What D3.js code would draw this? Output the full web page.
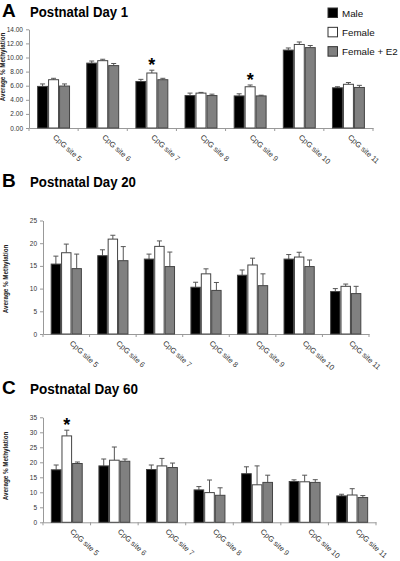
<!DOCTYPE html>
<html><head><meta charset="utf-8">
<script src="https://cdn.jsdelivr.net/npm/d3@7"></script>
<style>
html,body{margin:0;padding:0;background:#fff;}
svg{display:block;font-family:"Liberation Sans",Arial,sans-serif;}
</style></head>
<body>
<svg id="chart" width="400" height="561"></svg>
<script>
const categories = ["CpG site 5","CpG site 6","CpG site 7","CpG site 8","CpG site 9","CpG site 10","CpG site 11"];
const seriesNames = ["Male","Female","Female + E2"];
const seriesColors = ["#000000","#ffffff","#808080"];

// Postnatal Day 1
const day1Male      = [5.9, 9.2, 6.6, 4.6, 4.55, 11.05, 5.7];
const day1Female    = [6.85, 9.55, 7.8, 4.95, 5.85, 11.85, 6.2];
const day1FemaleE2  = [5.95, 8.85, 6.85, 4.6, 4.55, 11.4, 5.75];
const day1MaleErr   = [0.35, 0.3, 0.3, 0.35, 0.3, 0.3, 0.15];
const day1FemaleErr = [0.2, 0.2, 0.4, 0.1, 0.25, 0.35, 0.25];
const day1E2Err     = [0.3, 0.3, 0.2, 0.2, 0.1, 0.3, 0.3];
const day1Stars     = ["CpG site 7","CpG site 9"];
const day1Ticks     = [0, 2, 4, 6, 8, 10, 12, 14];

// Postnatal Day 20
const day20Male      = [15.4, 17.25, 16.5, 10.3, 12.95, 16.5, 9.35];
const day20Female    = [17.9, 20.9, 19.3, 13.25, 15.2, 16.95, 10.5];
const day20FemaleE2  = [14.4, 16.15, 14.85, 9.6, 10.65, 14.85, 8.9];
const day20MaleErr   = [1.75, 1.3, 1.1, 1.1, 1.15, 1.0, 0.65];
const day20FemaleErr = [1.9, 0.85, 1.2, 1.1, 1.5, 1.05, 0.5];
const day20E2Err     = [3.2, 3.1, 3.2, 1.75, 2.6, 1.45, 1.6];
const day20Stars     = [];
const day20Ticks     = [0, 5, 10, 15, 20, 25];

// Postnatal Day 60
const day60Male      = [17.5, 18.8, 17.6, 10.8, 16.2, 13.6, 8.8];
const day60Female    = [28.8, 20.7, 18.8, 9.9, 12.5, 13.5, 9.1];
const day60FemaleE2  = [19.6, 20.35, 18.25, 9.0, 13.3, 13.3, 8.25];
const day60MaleErr   = [1.6, 2.3, 1.5, 1.1, 2.3, 0.55, 0.55];
const day60FemaleErr = [1.9, 4.4, 2.5, 4.2, 6.3, 2.2, 2.1];
const day60E2Err     = [0.5, 0.75, 1.5, 2.5, 2.4, 0.9, 0.65];
const day60Stars     = ["CpG site 5"];
const day60Ticks     = [0, 5, 10, 15, 20, 25, 30, 35];

const svg = d3.select("#chart");

const panels = [
  {letter:"A", title:"Postnatal Day 1", titleY:16.5, titleLen:98,
   left:29, right:373, top:29.3, bottom:128, max:14, ticks:day1Ticks, fmt:d3.format(".2f"),
   vals:[day1Male, day1Female, day1FemaleE2], errs:[day1MaleErr, day1FemaleErr, day1E2Err], stars:day1Stars,
   yTitleX:5, yTitleY:67, labDx:-1, labDy:10},
  {letter:"B", title:"Postnatal Day 20", titleY:187, titleLen:106,
   left:43, right:369, top:220.5, bottom:334, max:25, ticks:day20Ticks, fmt:d3.format("d"),
   vals:[day20Male, day20Female, day20FemaleE2], errs:[day20MaleErr, day20FemaleErr, day20E2Err], stars:day20Stars,
   yTitleX:8, yTitleY:279, labDx:3, labDy:10},
  {letter:"C", title:"Postnatal Day 60", titleY:394, titleLen:108,
   left:43, right:376, top:417.3, bottom:522.3, max:35, ticks:day60Ticks, fmt:d3.format("d"),
   vals:[day60Male, day60Female, day60FemaleE2], errs:[day60MaleErr, day60FemaleErr, day60E2Err], stars:day60Stars,
   yTitleX:8, yTitleY:466, labDx:3, labDy:10}
];

panels.forEach(p => {
  const g = svg.append("g");
  // titles
  g.append("text").attr("x", 2).attr("y", p.titleY)
    .attr("font-size", 19).attr("font-weight", "bold").attr("fill", "#000").text(p.letter);
  g.append("text").attr("x", 30).attr("y", p.titleY)
    .attr("font-size", 14.5).attr("font-weight", "bold").attr("fill", "#000")
    .attr("textLength", p.titleLen).attr("lengthAdjust", "spacingAndGlyphs").text(p.title);

  const y = d3.scaleLinear().domain([0, p.max]).range([p.bottom, p.top]);
  const x0 = d3.scaleBand().domain(categories).range([p.left, p.right]).paddingInner(0.33).paddingOuter(0.165);
  const x1 = d3.scaleBand().domain(seriesNames).range([0, x0.bandwidth()]);

  // y axis
  const ya = g.append("g").attr("transform", `translate(${p.left},0)`)
    .call(d3.axisLeft(y).tickValues(p.ticks).tickFormat(p.fmt).tickSize(3).tickSizeOuter(0).tickPadding(3));
  ya.select(".domain").attr("stroke", "#999");
  ya.selectAll(".tick line").attr("stroke", "#999");
  ya.selectAll(".tick text").attr("font-size", 6.5).attr("fill", "#333")
    .attr("font-family", "Liberation Sans, Arial, sans-serif");

  // x axis
  const xa = g.append("g").attr("transform", `translate(0,${p.bottom})`)
    .call(d3.axisBottom(x0).tickFormat("").tickSize(0).tickSizeOuter(0));
  xa.select(".domain").attr("stroke", "#999");
  const half = x0.step() * x0.paddingInner() / 2;
  const bounds = categories.map(c => x0(c) - half).concat([x0(categories[categories.length-1]) + x0.bandwidth() + half]);
  g.selectAll(".bt").data(bounds).join("line")
    .attr("x1", d => d).attr("x2", d => d).attr("y1", p.bottom).attr("y2", p.bottom + 3)
    .attr("stroke", "#999");

  // category labels
  g.selectAll(".catlab").data(categories).join("text")
    .attr("transform", c => `translate(${x0(c) + x0.bandwidth()/2 + p.labDx},${p.bottom + p.labDy}) rotate(42)`)
    .attr("font-size", 7.5).attr("fill", "#333").text(c => c);

  // bars
  seriesNames.forEach((s, si) => {
    const data = categories.map((c, i) => ({c, v: p.vals[si][i], e: p.errs[si][i]}));
    const sg = g.append("g");
    // error bars (upper only)
    sg.selectAll(".err").data(data).join("line")
      .attr("x1", d => x0(d.c) + x1(s) + x1.bandwidth()/2)
      .attr("x2", d => x0(d.c) + x1(s) + x1.bandwidth()/2)
      .attr("y1", d => y(d.v)).attr("y2", d => y(d.v + d.e))
      .attr("stroke", "#555").attr("stroke-width", 1);
    sg.selectAll(".cap").data(data).join("line")
      .attr("x1", d => x0(d.c) + x1(s) + x1.bandwidth()/2 - 2.5)
      .attr("x2", d => x0(d.c) + x1(s) + x1.bandwidth()/2 + 2.5)
      .attr("y1", d => y(d.v + d.e)).attr("y2", d => y(d.v + d.e))
      .attr("stroke", "#555").attr("stroke-width", 1);
    sg.selectAll("rect").data(data).join("rect")
      .attr("x", d => x0(d.c) + x1(s) + 0.5)
      .attr("y", d => y(d.v))
      .attr("width", x1.bandwidth() - 1)
      .attr("height", d => y(0) - y(d.v))
      .attr("fill", seriesColors[si])
      .attr("stroke", "#444").attr("stroke-width", 1);
  });

  // significance stars
  g.selectAll(".star").data(p.stars).join("text")
    .attr("x", c => x0(c) + x1("Female") + x1.bandwidth()/2)
    .attr("y", c => {
      const i = categories.indexOf(c);
      return y(p.vals[1][i] + p.errs[1][i]) + 1;
    })
    .attr("text-anchor", "middle").attr("font-size", 18).attr("font-weight", "bold")
    .attr("fill", "#000").text("*");

  // y axis title
  g.append("text")
    .attr("transform", `translate(${p.yTitleX},${p.yTitleY}) rotate(-90)`)
    .attr("text-anchor", "middle").attr("font-size", 6.3).attr("font-weight", "bold")
    .attr("fill", "#222").text("Average % Methylation");
});

// legend
const legend = svg.append("g");
const legendY = d3.scaleBand().domain(seriesNames).range([7, 65]);
seriesNames.forEach((s, i) => {
  legend.append("rect").attr("x", 328).attr("y", legendY(s) + 1).attr("width", 9.5).attr("height", 9.5)
    .attr("fill", seriesColors[i]).attr("stroke", "#333").attr("stroke-width", 1);
  legend.append("text").attr("x", 342).attr("y", legendY(s) + 9.5)
    .attr("font-size", 9.8).attr("fill", "#111").text(s);
});
</script>
</body></html>
